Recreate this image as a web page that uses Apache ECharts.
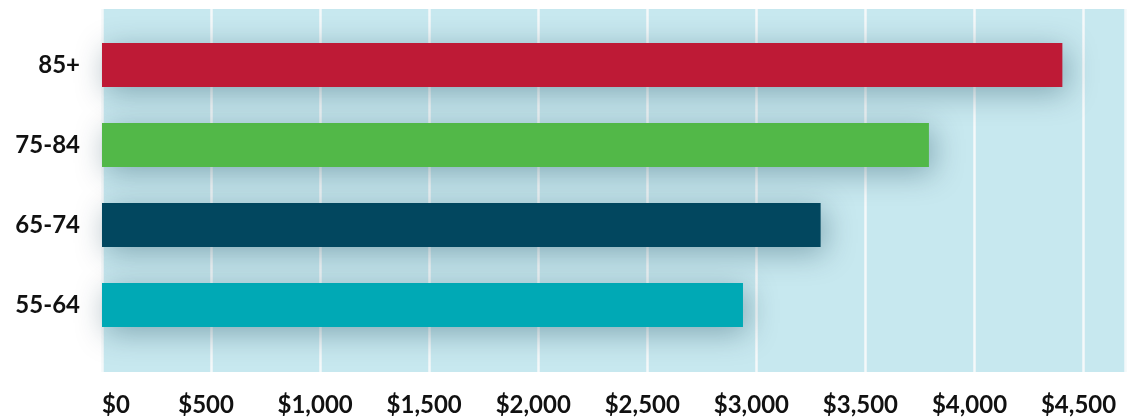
<!DOCTYPE html>
<html>
<head>
<meta charset="utf-8">
<script src="https://cdn.jsdelivr.net/npm/echarts@6/dist/echarts.min.js"></script>
<style>
  html, body { margin: 0; padding: 0; background: #ffffff; }
  #chart { width: 1128px; height: 417px; }
</style>
</head>
<body>
<div id="chart"></div>
<script>
// age groups, bottom to top
var ageGroups = ['55-64', '65-74', '75-84', '85+'];
var spending = [2930, 3285, 3780, 4390];
var barColors = ['#00a9b5', '#02475f', '#52b848', '#be1a36'];
var tickStep = 500;
var axisMax = 4690;

var chartDom = document.getElementById('chart');
var myChart = echarts.init(chartDom);

function money(v) {
  if (v % tickStep !== 0) return '';
  return '$' + v.toLocaleString('en-US');
}

var labelFont = {
  fontFamily: 'Lato',
  fontWeight: 700,
  fontSize: 24,
  color: '#111111'
};

var option = {
  animation: false,
  grid: [
    // background panel with the white grid lines
    { left: 102, right: 0, top: 9, bottom: 44, show: true, backgroundColor: '#c7e8ef', borderWidth: 0 },
    // bars
    { left: 102, right: 0, top: 25, bottom: 72 }
  ],
  xAxis: [
    {
      gridIndex: 0,
      type: 'value',
      min: 0,
      max: axisMax,
      interval: tickStep,
      axisLine: { show: false },
      axisTick: { show: false },
      splitLine: { show: true, lineStyle: { color: '#f4f9fa', width: 2.5 } },
      axisLabel: Object.assign({
        margin: 21,
        alignMinLabel: 'left',
        padding: [0, 10, 0, 0],
        formatter: money
      }, labelFont)
    },
    {
      gridIndex: 1,
      type: 'value',
      min: 0,
      max: axisMax,
      show: false
    }
  ],
  yAxis: [
    { gridIndex: 0, type: 'value', show: false },
    {
      gridIndex: 1,
      type: 'category',
      data: ageGroups,
      axisLine: { show: false },
      axisTick: { show: false },
      axisLabel: Object.assign({ margin: 22 }, labelFont)
    }
  ],
  series: [
    {
      type: 'bar',
      xAxisIndex: 1,
      yAxisIndex: 1,
      barWidth: 44,
      data: spending.map(function (v, i) {
        return { value: v, itemStyle: { color: barColors[i] } };
      }),
      itemStyle: {
        shadowBlur: 30,
        shadowColor: 'rgba(0, 50, 70, 0.35)',
        shadowOffsetX: 4,
        shadowOffsetY: 6
      }
    }
  ]
};

option && myChart.setOption(option);
</script>
</body>
</html>
